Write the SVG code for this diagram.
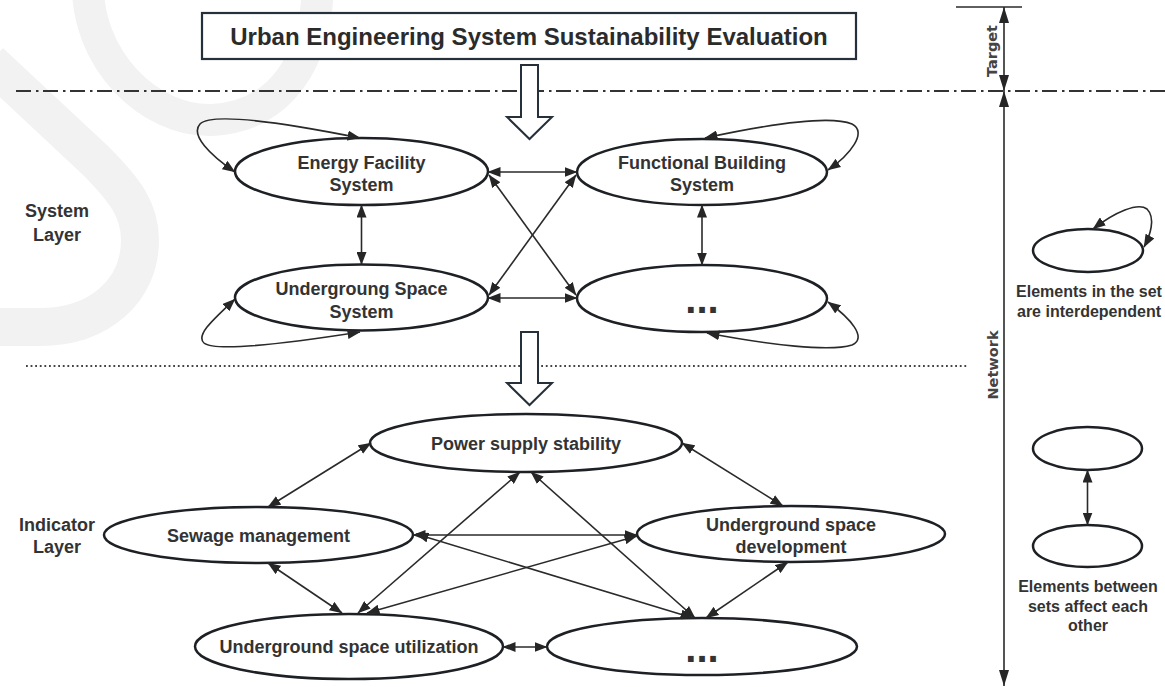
<svg xmlns="http://www.w3.org/2000/svg" width="1165" height="687" viewBox="0 0 1165 687">
<defs>
<style>
.wm{fill:none;stroke:#f2f2f2;stroke-linecap:butt}
.node ellipse{fill:#fff;stroke:#1d2024;stroke-width:2.5}
.t{font-family:"Liberation Sans",Arial,sans-serif;font-weight:bold;font-size:18px;fill:#333;text-anchor:middle}
.dots{font-family:"Liberation Sans",Arial,sans-serif;font-weight:bold;font-size:40px;fill:#333;text-anchor:middle}
.side{font-family:"DejaVu Sans",sans-serif;font-weight:bold;font-size:14.5px;fill:#444;text-anchor:middle}
.c line,.c path{fill:none;stroke:#2a2a2a;stroke-width:1.6;marker-start:url(#ah);marker-end:url(#ah)}
.hollow{fill:#fff;stroke:#26303a;stroke-width:2;stroke-linejoin:miter}
</style>
<marker id="ah" viewBox="0 0 13 10" refX="12.5" refY="5" markerWidth="13" markerHeight="10" markerUnits="userSpaceOnUse" orient="auto-start-reverse">
<path d="M0,0 L13,5 L0,10 z" fill="#262626"/>
</marker>
<marker id="ahb" viewBox="0 0 16 10" refX="16" refY="5" markerWidth="16" markerHeight="10" markerUnits="userSpaceOnUse" orient="auto-start-reverse">
<path d="M0,0 L16,5 L0,10 z" fill="#262626"/>
</marker>
</defs>
<rect width="1165" height="687" fill="#fff"/>
<g id="watermark">
<path class="wm" stroke-width="38" d="M -10,62 L 95,160 C 125,190 140,210 140,240 C 140,290 100,327 40,327 L -10,327"/>
<path class="wm" stroke-width="32" d="M 88,-20 C 85,60 150,122 212,120 C 280,117 318,60 318,-20"/>
</g>
<g id="separators">
<line x1="16" y1="91" x2="1165" y2="91" stroke="#333" stroke-width="2" stroke-dasharray="15 5 2.5 4.5"/>
<line x1="26" y1="366" x2="967" y2="366" stroke="#444" stroke-width="2" stroke-dasharray="1.8 2.8"/>
</g>
<g id="title">
<rect x="202" y="13" width="654" height="46" fill="#fff" stroke="#26303a" stroke-width="2.2"/>
<text class="t" x="529" y="45" style="font-size:24px;fill:#2b2b2b">Urban Engineering System Sustainability Evaluation</text>
</g>
<g id="flow-arrows">
<path class="hollow" d="M521,65 L538,65 L538,117 L552,117 L529.5,139 L507,117 L521,117 z"/>
<path class="hollow" d="M521,332 L538,332 L538,383 L552,383 L529.5,405 L507,383 L521,383 z"/>
</g>
<g id="layer-labels">
<text class="t" x="57" y="217">System</text>
<text class="t" x="57" y="241">Layer</text>
<text class="t" x="57" y="531">Indicator</text>
<text class="t" x="57" y="553">Layer</text>
</g>
<g id="scale">
<line x1="956" y1="7" x2="1022" y2="7" stroke="#2a2a2a" stroke-width="1.6"/>
<line x1="1004" y1="7" x2="1004" y2="91" stroke="#2a2a2a" stroke-width="1.6" marker-start="url(#ahb)" marker-end="url(#ahb)"/>
<line x1="1004" y1="91" x2="1004" y2="686" stroke="#2a2a2a" stroke-width="1.6" marker-start="url(#ahb)" marker-end="url(#ahb)"/>
<text class="side" transform="translate(997,51) rotate(-90)">Target</text>
<text class="side" transform="translate(998,365) rotate(-90)">Network</text>
</g>
<g id="node-energy" class="node">
<ellipse cx="361.5" cy="171.5" rx="126.5" ry="33.5"/>
<text class="t" x="361.5" y="169">Energy Facility</text>
<text class="t" x="361.5" y="191">System</text>
</g>
<g id="node-functional" class="node">
<ellipse cx="702" cy="172" rx="125" ry="33"/>
<text class="t" x="702" y="169">Functional Building</text>
<text class="t" x="702" y="191">System</text>
</g>
<g id="node-undergroung" class="node">
<ellipse cx="361.5" cy="297.5" rx="126.5" ry="33"/>
<text class="t" x="361.5" y="295">Undergroung Space</text>
<text class="t" x="361.5" y="318">System</text>
</g>
<g id="node-system-more" class="node">
<ellipse cx="702" cy="298.5" rx="125" ry="33.5"/>
<text class="dots" x="702" y="313">...</text>
</g>
<g id="node-power" class="node">
<ellipse cx="526" cy="443" rx="156" ry="29"/>
<text class="t" x="526" y="450">Power supply stability</text>
</g>
<g id="node-sewage" class="node">
<ellipse cx="258.5" cy="535" rx="154.5" ry="28"/>
<text class="t" x="258.5" y="542">Sewage management</text>
</g>
<g id="node-udev" class="node">
<ellipse cx="791" cy="534" rx="154" ry="28"/>
<text class="t" x="791" y="531">Underground space</text>
<text class="t" x="791" y="553">development</text>
</g>
<g id="node-util" class="node">
<ellipse cx="349" cy="646.5" rx="154" ry="32.5"/>
<text class="t" x="349" y="653">Underground space utilization</text>
</g>
<g id="node-indicator-more" class="node">
<ellipse cx="702" cy="646.5" rx="155" ry="28.5"/>
<text class="dots" x="702" y="662">...</text>
</g>
<g id="legend-interdependent" class="node">
<ellipse cx="1088" cy="250.5" rx="55" ry="21.5"/>
<text class="t" x="1089" y="297" style="font-size:16px">Elements in the set</text>
<text class="t" x="1089" y="317" style="font-size:16px">are interdependent</text>
</g>
<g id="legend-between" class="node">
<ellipse cx="1087.5" cy="448.5" rx="54.5" ry="21.5"/>
<ellipse cx="1087.5" cy="546" rx="54.5" ry="21"/>
<text class="t" x="1088" y="592" style="font-size:16px">Elements between</text>
<text class="t" x="1088" y="612" style="font-size:16px">sets affect each</text>
<text class="t" x="1088" y="631" style="font-size:16px">other</text>
</g>
<g id="connectors" class="c">
<path d="M 235,172 C 210,155 190,135 200,124 C 212,112 280,122 360,138"/>
<path d="M 235,299 C 215,318 195,335 204,343 C 215,352 290,343 360,332"/>
<path d="M 828,170 C 850,155 868,132 852,124 C 830,115 770,124 705,138"/>
<path d="M 828,302 C 850,318 868,338 852,345 C 830,352 770,345 707,333"/>
<path d="M 1093,229 C 1115,212 1138,202 1147,209 C 1156,218 1150,236 1144,247"/>
<line x1="361.5" y1="205" x2="361.5" y2="264.5"/>
<line x1="702" y1="205" x2="702" y2="265"/>
<line x1="488" y1="172" x2="577" y2="172"/>
<line x1="488" y1="298" x2="577" y2="298"/>
<line x1="489" y1="175" x2="576" y2="295"/>
<line x1="576" y1="175" x2="489" y2="295"/>
<line x1="1087.5" y1="470" x2="1087.5" y2="525"/>
<line x1="268" y1="507" x2="371" y2="443"/>
<line x1="268" y1="563" x2="342" y2="613"/>
<line x1="520" y1="472" x2="358" y2="613"/>
<line x1="531" y1="472" x2="695" y2="618"/>
<line x1="682" y1="443" x2="783" y2="506"/>
<line x1="413" y1="535" x2="637" y2="535"/>
<line x1="416" y1="534" x2="693" y2="618"/>
<line x1="367" y1="613" x2="637" y2="536"/>
<line x1="788" y1="562" x2="706" y2="618"/>
<line x1="503" y1="647" x2="547" y2="647"/>
</g>
</svg>
